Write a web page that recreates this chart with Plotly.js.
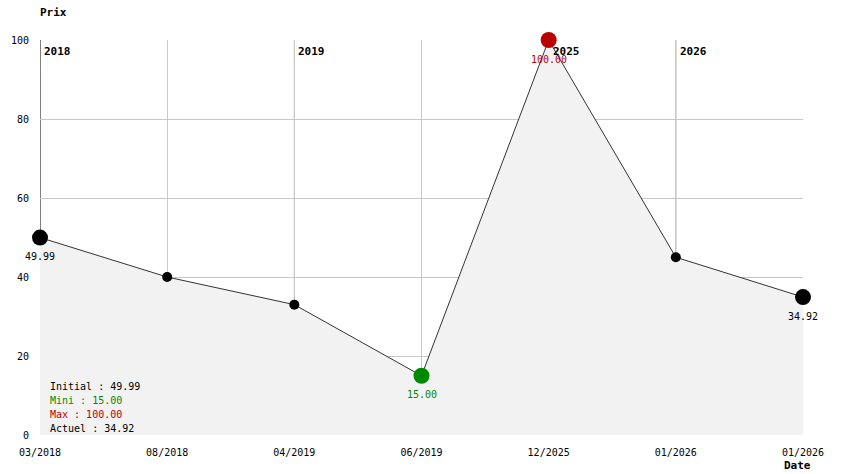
<!DOCTYPE html>
<html>
<head>
<meta charset="utf-8">
<script src="https://cdn.plot.ly/plotly-3.0.1.min.js"></script>
<style>html,body{margin:0;padding:0;background:#fff;}#chart{width:844px;height:474px;}</style>
</head>
<body>
<div id="chart"></div>
<script>
const dateLabels = ["03/2018", "08/2018", "04/2019", "06/2019", "12/2025", "01/2026", "01/2026"];
const prices = [49.99, 40, 33, 15, 100, 45, 34.92];
const yTicks = [0, 20, 40, 60, 80, 100];

const FONT = "DejaVu Sans Mono, Liberation Mono, monospace";
const RED = "#bb0000";
const GREEN = "#008a00";

const idx = dateLabels.map((_, i) => i);
const n = prices.length;
const minVal = Math.min(...prices);
const maxVal = Math.max(...prices);
const iMin = prices.indexOf(minVal);
const iMax = prices.indexOf(maxVal);
const initial = prices[0];
const current = prices[n - 1];

// year markers
const yearIdx = [];
const yearTxt = [];
dateLabels.forEach((d, i) => {
  const y = d.split("/")[1];
  if (i === 0 || y !== dateLabels[i - 1].split("/")[1]) { yearIdx.push(i); yearTxt.push(y); }
});

const specialIdx = [0, iMin, iMax, n - 1];
const specialColors = [ "#000", GREEN, RED, "#000" ];

const traces = [
  {
    x: idx, y: prices, type: "scatter", mode: "lines+markers",
    line: {color: "#333", width: 1},
    fill: "tozeroy", fillcolor: "#f2f2f2",
    marker: {color: "#000", size: 10},
    cliponaxis: false, hoverinfo: "skip"
  },
  {
    x: specialIdx, y: specialIdx.map(i => prices[i]), type: "scatter", mode: "markers",
    marker: {color: specialColors, size: 16},
    cliponaxis: false, hoverinfo: "skip"
  }
];

const shapes = yearIdx.map(i => ({
  type: "line", xref: "x", yref: "paper", x0: i, x1: i, y0: 0, y1: 1,
  line: {color: i === 0 ? "#000" : "#999", width: 1}, layer: "below"
}));

const annotations = yearIdx.map((i, k) => ({
  x: i, y: 1, xref: "x", yref: "paper", xanchor: "left", yanchor: "top",
  xshift: 2, yshift: -3,
  text: "<b>" + yearTxt[k] + "</b>", showarrow: false,
  font: {family: FONT, size: 11, color: "#000"}
}));

specialIdx.forEach((i, k) => {
  annotations.push({
    x: i, y: prices[i], xref: "x", yref: "y", xanchor: "center", yanchor: "middle",
    yshift: -19, text: prices[i].toFixed(2), showarrow: false,
    font: {family: FONT, size: 10, color: specialColors[k]}
  });
});

const legendLines = [
  ["Initial : " + initial.toFixed(2), "#000"],
  ["Mini : " + minVal.toFixed(2), GREEN],
  ["Max : " + maxVal.toFixed(2), RED],
  ["Actuel : " + current.toFixed(2), "#000"]
];
legendLines.forEach((l, k) => {
  annotations.push({
    x: 8 / 763, y: (435 - (386 + 14 * k)) / 395, xref: "paper", yref: "paper",
    xanchor: "left", yanchor: "middle", showarrow: false,
    text: l[0], font: {family: FONT, size: 10, color: l[1]}
  });
});
annotations.push({
  x: 0, y: 1, xref: "paper", yref: "paper", xanchor: "left", yanchor: "bottom",
  yshift: 19, xshift: -2, text: "<b>Prix</b>", showarrow: false,
  font: {family: FONT, size: 11, color: "#000"}
});
annotations.push({
  x: 1, y: 0, xref: "paper", yref: "paper", xanchor: "center", yanchor: "top",
  yshift: -22, xshift: -6, text: "<b>Date</b>", showarrow: false,
  font: {family: FONT, size: 11, color: "#000"}
});

const layout = {
  width: 844, height: 474,
  margin: {l: 40, r: 41, t: 40, b: 39},
  paper_bgcolor: "#fff", plot_bgcolor: "#fff",
  showlegend: false,
  font: {family: FONT, size: 10, color: "#000"},
  xaxis: {
    range: [0, n - 1], tickvals: idx, ticktext: dateLabels,
    showgrid: true, gridcolor: "#c8c8c8", gridwidth: 1,
    zeroline: false, showline: false, ticks: "",
    ticklabelstandoff: 10,
    tickfont: {family: FONT, size: 10, color: "#000"}
  },
  yaxis: {
    range: [0, 100], tickvals: yTicks,
    showgrid: true, gridcolor: "#c8c8c8", gridwidth: 1,
    zeroline: false, showline: false, ticks: "",
    ticklabelstandoff: 10,
    tickfont: {family: FONT, size: 10, color: "#000"}
  },
  shapes: shapes,
  annotations: annotations
};

Plotly.newPlot("chart", traces, layout, {displayModeBar: false, staticPlot: true});
</script>
</body>
</html>
